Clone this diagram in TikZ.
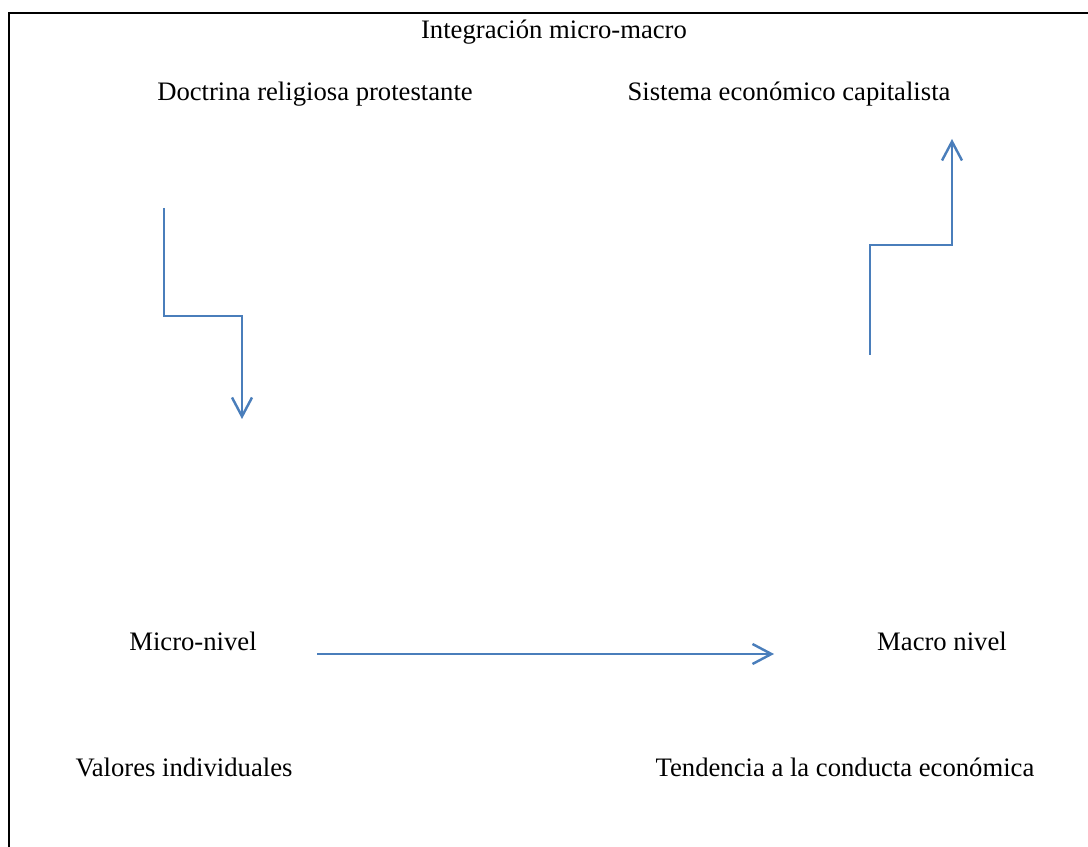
\documentclass[tikz,border=0pt]{standalone}
\usepackage{fontspec}
\setmainfont{Liberation Serif}
\usepackage{tikz}
\usetikzlibrary{arrows.meta}

\definecolor{officeblue}{RGB}{74,126,187}

\begin{document}
\begin{tikzpicture}[x=0.45pt,y=0.45pt,yscale=-1,xscale=1,
  lbl/.style={anchor=base,inner sep=0pt,font=\fontsize{12}{14}\selectfont},
  flow/.style={draw=officeblue,line width=1.1pt,-{Straight Barb[length=8.5pt,width=9pt,line width=1.1pt]}}]
\useasboundingbox (0,0) rectangle (1088,847);

% Frame
\draw [line width=1pt]  (9,847) -- (9,13) -- (1088,13) ;

% Text Node
\node [lbl] (titulo) at (554,39) {Integración micro-macro};
% Text Node
\node [lbl] (doctrina) at (315,101) {Doctrina religiosa protestante};
% Text Node
\node [lbl] (sistema) at (789,101) {Sistema económico capitalista};
% Text Node
\node [lbl] (micro) at (193,651) {Micro-nivel};
% Text Node
\node [lbl] (macro) at (942,651) {Macro nivel};
% Text Node
\node [lbl] (valores) at (184,777) {Valores individuales};
% Text Node
\node [lbl] (tendencia) at (845,777) {Tendencia a la conducta económica};

% Ends
\coordinate (bajaini) at (164,208);
\coordinate (bajafin) at (242,419);
\coordinate (subeini) at (870,355);
\coordinate (subefin) at (952,139);
\coordinate (horizini) at (317,654);
\coordinate (horizfin) at (774,654);

% Connection
\draw [flow]  (bajaini) |- (242,316) -- (bajafin) ;
% Connection
\draw [flow]  (subeini) |- (952,245) -- (subefin) ;
% Connection
\draw [flow]  (horizini) -- (horizfin) ;

\end{tikzpicture}
\end{document}
